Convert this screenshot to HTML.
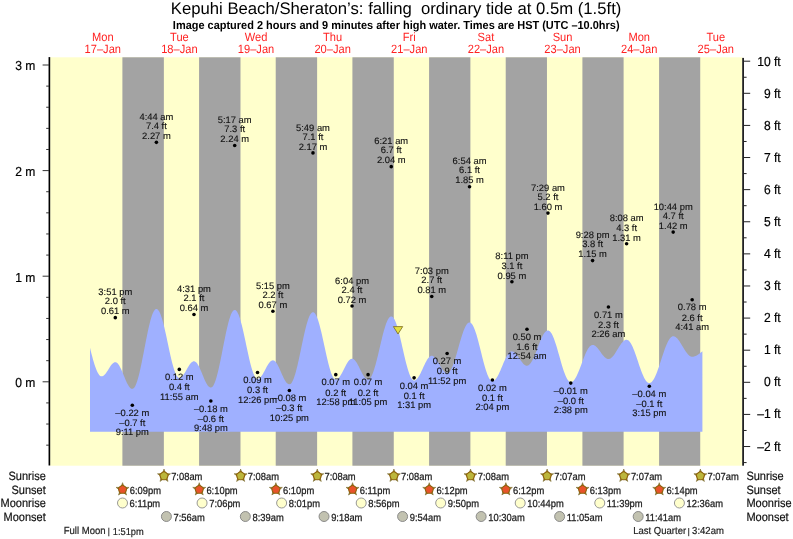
<!DOCTYPE html>
<html><head><meta charset="utf-8"><title>Tide chart</title>
<style>html,body{margin:0;padding:0;background:#fff}svg{display:block;will-change:transform}</style></head>
<body>
<svg width="793" height="539" viewBox="0 0 793 539" font-family="Liberation Sans, sans-serif" text-rendering="geometricPrecision">
<rect width="793" height="539" fill="#fff"/>
<rect x="50.15" y="57.3" width="692.15" height="408.4" fill="#ffffcc"/>
<rect x="122.40" y="57.3" width="41.46" height="408.4" fill="#a3a3a3"/>
<rect x="199.09" y="57.3" width="41.40" height="408.4" fill="#a3a3a3"/>
<rect x="275.72" y="57.3" width="41.40" height="408.4" fill="#a3a3a3"/>
<rect x="352.41" y="57.3" width="41.35" height="408.4" fill="#a3a3a3"/>
<rect x="429.09" y="57.3" width="41.30" height="408.4" fill="#a3a3a3"/>
<rect x="505.72" y="57.3" width="41.24" height="408.4" fill="#a3a3a3"/>
<rect x="582.41" y="57.3" width="41.19" height="408.4" fill="#a3a3a3"/>
<rect x="659.09" y="57.3" width="41.14" height="408.4" fill="#a3a3a3"/>
<path d="M90.00,431.7L90.00,347.81L90.77,350.91L91.53,353.92L92.30,356.84L93.06,359.64L93.83,362.28L94.59,364.76L95.36,367.04L96.12,369.11L96.89,370.94L97.66,372.53L98.42,373.85L99.19,374.91L99.95,375.68L100.72,376.16L101.48,376.34L102.25,376.27L103.01,375.97L103.78,375.47L104.54,374.79L105.31,373.93L106.08,372.93L106.84,371.82L107.61,370.63L108.37,369.40L109.14,368.17L109.90,366.97L110.67,365.85L111.43,364.82L112.20,363.94L112.97,363.22L113.73,362.68L114.50,362.35L115.26,362.23L116.03,362.35L116.79,362.73L117.56,363.37L118.32,364.25L119.09,365.36L119.85,366.67L120.62,368.15L121.39,369.79L122.15,371.53L122.92,373.36L123.68,375.23L124.45,377.11L125.21,378.96L125.98,380.74L126.74,382.41L127.51,383.95L128.28,385.32L129.04,386.50L129.81,387.45L130.57,388.17L131.34,388.64L132.10,388.85L132.87,388.75L133.63,388.27L134.40,387.39L135.16,386.13L135.93,384.50L136.70,382.51L137.46,380.19L138.23,377.56L138.99,374.64L139.76,371.47L140.52,368.07L141.29,364.48L142.05,360.74L142.82,356.87L143.59,352.93L144.35,348.95L145.12,344.97L145.88,341.03L146.65,337.16L147.41,333.42L148.18,329.83L148.94,326.42L149.71,323.25L150.47,320.32L151.24,317.69L152.01,315.36L152.77,313.37L153.54,311.73L154.30,310.46L155.07,309.58L155.83,309.09L156.60,308.99L157.36,309.28L158.13,309.94L158.90,310.98L159.66,312.37L160.43,314.10L161.19,316.16L161.96,318.51L162.72,321.15L163.49,324.02L164.25,327.11L165.02,330.38L165.78,333.80L166.55,337.32L167.32,340.91L168.08,344.52L168.85,348.13L169.61,351.68L170.38,355.15L171.14,358.48L171.91,361.65L172.67,364.62L173.44,367.36L174.20,369.83L174.97,372.01L175.74,373.88L176.50,375.42L177.27,376.60L178.03,377.42L178.80,377.86L179.56,377.94L180.33,377.75L181.09,377.35L181.86,376.74L182.63,375.94L183.39,374.97L184.16,373.86L184.92,372.63L185.69,371.32L186.45,369.96L187.22,368.60L187.98,367.26L188.75,365.99L189.51,364.81L190.28,363.76L191.05,362.87L191.81,362.16L192.58,361.65L193.34,361.35L194.11,361.27L194.87,361.45L195.64,361.89L196.40,362.58L197.17,363.52L197.94,364.67L198.70,366.03L199.47,367.55L200.23,369.22L201.00,370.99L201.76,372.83L202.53,374.70L203.29,376.57L204.06,378.39L204.82,380.13L205.59,381.76L206.36,383.24L207.12,384.54L207.89,385.63L208.65,386.49L209.42,387.11L210.18,387.48L210.95,387.57L211.71,387.32L212.48,386.68L213.25,385.65L214.01,384.25L214.78,382.49L215.54,380.38L216.31,377.96L217.07,375.24L217.84,372.25L218.60,369.02L219.37,365.59L220.13,361.99L220.90,358.25L221.67,354.42L222.43,350.53L223.20,346.62L223.96,342.73L224.73,338.90L225.49,335.18L226.26,331.59L227.02,328.18L227.79,324.97L228.56,322.01L229.32,319.31L230.09,316.92L230.85,314.85L231.62,313.12L232.38,311.75L233.15,310.76L233.91,310.16L234.68,309.94L235.44,310.12L236.21,310.67L236.98,311.60L237.74,312.90L238.51,314.54L239.27,316.52L240.04,318.81L240.80,321.38L241.57,324.20L242.33,327.26L243.10,330.50L243.87,333.90L244.63,337.41L245.40,341.00L246.16,344.64L246.93,348.26L247.69,351.85L248.46,355.35L249.22,358.73L249.99,361.96L250.75,364.99L251.52,367.78L252.29,370.33L253.05,372.58L253.82,374.52L254.58,376.12L255.35,377.38L256.11,378.27L256.88,378.78L257.64,378.91L258.41,378.76L259.18,378.39L259.94,377.80L260.71,377.01L261.47,376.04L262.24,374.91L263.00,373.66L263.77,372.30L264.53,370.88L265.30,369.43L266.06,367.98L266.83,366.57L267.60,365.24L268.36,364.01L269.13,362.92L269.89,362.00L270.66,361.26L271.42,360.72L272.19,360.40L272.95,360.31L273.72,360.46L274.49,360.86L275.25,361.51L276.02,362.38L276.78,363.47L277.55,364.75L278.31,366.19L279.08,367.75L279.84,369.42L280.61,371.15L281.38,372.90L282.14,374.64L282.91,376.34L283.67,377.94L284.44,379.43L285.20,380.77L285.97,381.93L286.73,382.88L287.50,383.61L288.26,384.10L289.03,384.34L289.80,384.31L290.56,383.91L291.33,383.15L292.09,382.02L292.86,380.55L293.62,378.74L294.39,376.61L295.15,374.19L295.92,371.50L296.69,368.57L297.45,365.43L298.22,362.11L298.98,358.65L299.75,355.08L300.51,351.44L301.28,347.77L302.04,344.10L302.81,340.48L303.57,336.93L304.34,333.51L305.11,330.24L305.87,327.15L306.64,324.28L307.40,321.67L308.17,319.33L308.93,317.28L309.70,315.56L310.46,314.18L311.23,313.16L312.00,312.49L312.76,312.20L313.53,312.28L314.29,312.74L315.06,313.56L315.82,314.74L316.59,316.27L317.35,318.13L318.12,320.29L318.88,322.74L319.65,325.45L320.42,328.38L321.18,331.51L321.95,334.79L322.71,338.20L323.48,341.70L324.24,345.24L325.01,348.79L325.77,352.30L326.54,355.75L327.31,359.08L328.07,362.27L328.84,365.27L329.60,368.06L330.37,370.61L331.13,372.88L331.90,374.84L332.66,376.49L333.43,377.80L334.19,378.75L334.96,379.34L335.73,379.55L336.49,379.46L337.26,379.14L338.02,378.60L338.79,377.85L339.55,376.91L340.32,375.81L341.08,374.55L341.85,373.18L342.62,371.72L343.38,370.21L344.15,368.67L344.91,367.14L345.68,365.66L346.44,364.25L347.21,362.94L347.97,361.77L348.74,360.76L349.50,359.94L350.27,359.31L351.04,358.90L351.80,358.71L352.57,358.76L353.33,359.03L354.10,359.53L354.86,360.25L355.63,361.17L356.39,362.27L357.16,363.52L357.93,364.90L358.69,366.37L359.46,367.91L360.22,369.47L360.99,371.03L361.75,372.54L362.52,373.98L363.28,375.30L364.05,376.49L364.81,377.51L365.58,378.35L366.35,378.97L367.11,379.38L367.88,379.55L368.64,379.45L369.41,379.03L370.17,378.26L370.94,377.17L371.70,375.77L372.47,374.07L373.24,372.08L374.00,369.84L374.77,367.36L375.53,364.68L376.30,361.81L377.06,358.80L377.83,355.66L378.59,352.45L379.36,349.19L380.12,345.91L380.89,342.65L381.66,339.46L382.42,336.35L383.19,333.37L383.95,330.54L384.72,327.91L385.48,325.49L386.25,323.31L387.01,321.39L387.78,319.76L388.55,318.44L389.31,317.43L390.08,316.75L390.84,316.40L391.61,316.40L392.37,316.75L393.14,317.45L393.90,318.49L394.67,319.86L395.43,321.55L396.20,323.53L396.97,325.80L397.73,328.31L398.50,331.04L399.26,333.97L400.03,337.05L400.79,340.27L401.56,343.57L402.32,346.92L403.09,350.30L403.86,353.65L404.62,356.94L405.39,360.14L406.15,363.22L406.92,366.12L407.68,368.84L408.45,371.32L409.21,373.56L409.98,375.51L410.74,377.17L411.51,378.51L412.28,379.52L413.04,380.18L413.81,380.49L414.57,380.47L415.34,380.22L416.10,379.74L416.87,379.05L417.63,378.15L418.40,377.07L419.17,375.83L419.93,374.44L420.70,372.94L421.46,371.34L422.23,369.69L422.99,368.02L423.76,366.34L424.52,364.70L425.29,363.12L426.05,361.63L426.82,360.27L427.59,359.05L428.35,358.01L429.12,357.15L429.88,356.49L430.65,356.05L431.41,355.84L432.18,355.85L432.94,356.07L433.71,356.50L434.48,357.13L435.24,357.93L436.01,358.89L436.77,359.99L437.54,361.20L438.30,362.49L439.07,363.83L439.83,365.19L440.60,366.52L441.36,367.81L442.13,369.02L442.90,370.11L443.66,371.07L444.43,371.86L445.19,372.48L445.96,372.90L446.72,373.11L447.49,373.10L448.25,372.82L449.02,372.24L449.79,371.39L450.55,370.26L451.32,368.88L452.08,367.25L452.85,365.40L453.61,363.35L454.38,361.12L455.14,358.74L455.91,356.23L456.67,353.63L457.44,350.96L458.21,348.25L458.97,345.53L459.74,342.85L460.50,340.22L461.27,337.67L462.03,335.24L462.80,332.96L463.56,330.85L464.33,328.93L465.10,327.23L465.86,325.76L466.63,324.55L467.39,323.60L468.16,322.93L468.92,322.55L469.69,322.46L470.45,322.68L471.22,323.22L471.98,324.08L472.75,325.24L473.52,326.70L474.28,328.44L475.05,330.43L475.81,332.66L476.58,335.10L477.34,337.73L478.11,340.51L478.87,343.42L479.64,346.42L480.41,349.48L481.17,352.57L481.94,355.64L482.70,358.68L483.47,361.64L484.23,364.49L485.00,367.20L485.76,369.73L486.53,372.08L487.29,374.19L488.06,376.06L488.83,377.66L489.59,378.98L490.36,379.99L491.12,380.70L491.89,381.08L492.65,381.15L493.42,380.96L494.18,380.56L494.95,379.93L495.72,379.10L496.48,378.07L497.25,376.86L498.01,375.50L498.78,373.99L499.54,372.36L500.31,370.64L501.07,368.86L501.84,367.03L502.60,365.20L503.37,363.37L504.14,361.60L504.90,359.89L505.67,358.28L506.43,356.79L507.20,355.44L507.96,354.26L508.73,353.26L509.49,352.45L510.26,351.86L511.03,351.48L511.79,351.33L512.56,351.39L513.32,351.63L514.09,352.05L514.85,352.63L515.62,353.37L516.38,354.23L517.15,355.21L517.91,356.27L518.68,357.39L519.45,358.54L520.21,359.69L520.98,360.81L521.74,361.87L522.51,362.85L523.27,363.71L524.04,364.45L524.80,365.03L525.57,365.45L526.33,365.70L527.10,365.76L527.87,365.60L528.63,365.22L529.40,364.61L530.16,363.79L530.93,362.76L531.69,361.54L532.46,360.14L533.22,358.59L533.99,356.90L534.76,355.09L535.52,353.19L536.29,351.23L537.05,349.22L537.82,347.20L538.58,345.20L539.35,343.23L540.11,341.32L540.88,339.51L541.64,337.80L542.41,336.23L543.18,334.82L543.94,333.58L544.71,332.53L545.47,331.69L546.24,331.06L547.00,330.66L547.77,330.48L548.53,330.55L549.30,330.90L550.07,331.54L550.83,332.45L551.60,333.62L552.36,335.05L553.13,336.71L553.89,338.59L554.66,340.67L555.42,342.92L556.19,345.32L556.96,347.84L557.72,350.46L558.49,353.14L559.25,355.85L560.02,358.57L560.78,361.27L561.55,363.91L562.31,366.46L563.08,368.90L563.84,371.21L564.61,373.34L565.38,375.29L566.14,377.03L566.91,378.53L567.67,379.79L568.44,380.79L569.20,381.51L569.97,381.96L570.73,382.12L571.50,382.02L572.26,381.70L573.03,381.15L573.80,380.39L574.56,379.43L575.33,378.27L576.09,376.93L576.86,375.43L577.62,373.78L578.39,372.01L579.15,370.14L579.92,368.18L580.69,366.17L581.45,364.13L582.22,362.08L582.98,360.04L583.75,358.05L584.51,356.13L585.28,354.29L586.04,352.57L586.81,350.98L587.58,349.54L588.34,348.27L589.11,347.19L589.87,346.31L590.64,345.63L591.40,345.17L592.17,344.94L592.93,344.93L593.70,345.08L594.46,345.40L595.23,345.86L596.00,346.47L596.76,347.20L597.53,348.04L598.29,348.97L599.06,349.97L599.82,351.02L600.59,352.09L601.35,353.15L602.12,354.19L602.88,355.18L603.65,356.09L604.42,356.91L605.18,357.62L605.95,358.19L606.71,358.62L607.48,358.90L608.24,359.02L609.01,358.97L609.77,358.76L610.54,358.39L611.31,357.85L612.07,357.17L612.84,356.36L613.60,355.42L614.37,354.38L615.13,353.25L615.90,352.05L616.66,350.81L617.43,349.54L618.20,348.27L618.96,347.02L619.73,345.81L620.49,344.66L621.26,343.60L622.02,342.64L622.79,341.79L623.55,341.08L624.32,340.52L625.08,340.11L625.85,339.86L626.62,339.78L627.38,339.90L628.15,340.27L628.91,340.87L629.68,341.70L630.44,342.76L631.21,344.02L631.97,345.48L632.74,347.12L633.51,348.92L634.27,350.86L635.04,352.91L635.80,355.07L636.57,357.29L637.33,359.56L638.10,361.85L638.86,364.14L639.63,366.40L640.39,368.60L641.16,370.72L641.93,372.73L642.69,374.62L643.46,376.36L644.22,377.94L644.99,379.33L645.75,380.52L646.52,381.49L647.28,382.24L648.05,382.76L648.81,383.03L649.58,383.07L650.35,382.86L651.11,382.43L651.88,381.76L652.64,380.86L653.41,379.76L654.17,378.44L654.94,376.94L655.70,375.26L656.47,373.43L657.24,371.45L658.00,369.36L658.77,367.16L659.53,364.89L660.30,362.57L661.06,360.22L661.83,357.86L662.59,355.52L663.36,353.23L664.13,351.00L664.89,348.85L665.66,346.82L666.42,344.91L667.19,343.16L667.95,341.57L668.72,340.17L669.48,338.96L670.25,337.97L671.01,337.19L671.78,336.64L672.55,336.33L673.31,336.25L674.08,336.36L674.84,336.63L675.61,337.06L676.37,337.65L677.14,338.37L677.90,339.23L678.67,340.20L679.44,341.27L680.20,342.43L680.97,343.66L681.73,344.92L682.50,346.22L683.26,347.52L684.03,348.80L684.79,350.05L685.56,351.24L686.32,352.35L687.09,353.37L687.86,354.28L688.62,355.07L689.39,355.71L690.15,356.22L690.92,356.56L691.68,356.75L692.45,356.77L693.21,356.70L693.98,356.55L694.75,356.32L695.51,356.03L696.28,355.66L697.04,355.23L697.81,354.76L698.57,354.24L699.34,353.68L700.10,353.11L700.87,352.52L701.63,351.93L702.40,351.34L702.40,431.7Z" fill="#9fb0ff"/>
<rect x="48.55" y="57.099999999999994" width="1.65" height="408.4" fill="#000"/>
<rect x="742.2" y="57.9" width="1.8" height="407.79999999999995" fill="#222"/>
<line x1="46.2" y1="445.16" x2="49" y2="445.16" stroke="#333" stroke-width="1"/>
<line x1="46.2" y1="424.04" x2="49" y2="424.04" stroke="#333" stroke-width="1"/>
<line x1="46.2" y1="402.92" x2="49" y2="402.92" stroke="#333" stroke-width="1"/>
<line x1="42.6" y1="381.80" x2="49" y2="381.80" stroke="#333" stroke-width="1"/>
<text transform="translate(35.40,387.10) scale(0.93,1)" font-size="13.0" text-anchor="end" fill="#000" stroke="#000" stroke-width="0.2">0 m</text>
<line x1="46.2" y1="360.68" x2="49" y2="360.68" stroke="#333" stroke-width="1"/>
<line x1="46.2" y1="339.56" x2="49" y2="339.56" stroke="#333" stroke-width="1"/>
<line x1="46.2" y1="318.44" x2="49" y2="318.44" stroke="#333" stroke-width="1"/>
<line x1="46.2" y1="297.32" x2="49" y2="297.32" stroke="#333" stroke-width="1"/>
<line x1="42.6" y1="276.20" x2="49" y2="276.20" stroke="#333" stroke-width="1"/>
<text transform="translate(35.40,281.50) scale(0.93,1)" font-size="13.0" text-anchor="end" fill="#000" stroke="#000" stroke-width="0.2">1 m</text>
<line x1="46.2" y1="255.08" x2="49" y2="255.08" stroke="#333" stroke-width="1"/>
<line x1="46.2" y1="233.96" x2="49" y2="233.96" stroke="#333" stroke-width="1"/>
<line x1="46.2" y1="212.84" x2="49" y2="212.84" stroke="#333" stroke-width="1"/>
<line x1="46.2" y1="191.72" x2="49" y2="191.72" stroke="#333" stroke-width="1"/>
<line x1="42.6" y1="170.60" x2="49" y2="170.60" stroke="#333" stroke-width="1"/>
<text transform="translate(35.40,175.90) scale(0.93,1)" font-size="13.0" text-anchor="end" fill="#000" stroke="#000" stroke-width="0.2">2 m</text>
<line x1="46.2" y1="149.48" x2="49" y2="149.48" stroke="#333" stroke-width="1"/>
<line x1="46.2" y1="128.36" x2="49" y2="128.36" stroke="#333" stroke-width="1"/>
<line x1="46.2" y1="107.24" x2="49" y2="107.24" stroke="#333" stroke-width="1"/>
<line x1="46.2" y1="86.12" x2="49" y2="86.12" stroke="#333" stroke-width="1"/>
<line x1="42.6" y1="65.00" x2="49" y2="65.00" stroke="#333" stroke-width="1"/>
<text transform="translate(35.40,70.30) scale(0.93,1)" font-size="13.0" text-anchor="end" fill="#000" stroke="#000" stroke-width="0.2">3 m</text>
<line x1="743" y1="462.58" x2="746.6" y2="462.58" stroke="#222" stroke-width="1"/>
<line x1="743" y1="446.52" x2="750.2" y2="446.52" stroke="#222" stroke-width="1"/>
<text transform="translate(780.70,450.56) scale(0.93,1)" font-size="13.0" text-anchor="end" fill="#000" stroke="#000" stroke-width="0.2">–2 ft</text>
<line x1="743" y1="430.47" x2="746.6" y2="430.47" stroke="#222" stroke-width="1"/>
<line x1="743" y1="414.41" x2="750.2" y2="414.41" stroke="#222" stroke-width="1"/>
<text transform="translate(780.70,418.48) scale(0.93,1)" font-size="13.0" text-anchor="end" fill="#000" stroke="#000" stroke-width="0.2">–1 ft</text>
<line x1="743" y1="398.36" x2="746.6" y2="398.36" stroke="#222" stroke-width="1"/>
<line x1="743" y1="382.30" x2="750.2" y2="382.30" stroke="#222" stroke-width="1"/>
<text transform="translate(780.70,386.40) scale(0.93,1)" font-size="13.0" text-anchor="end" fill="#000" stroke="#000" stroke-width="0.2">0 ft</text>
<line x1="743" y1="366.25" x2="746.6" y2="366.25" stroke="#222" stroke-width="1"/>
<line x1="743" y1="350.19" x2="750.2" y2="350.19" stroke="#222" stroke-width="1"/>
<text transform="translate(780.70,354.32) scale(0.93,1)" font-size="13.0" text-anchor="end" fill="#000" stroke="#000" stroke-width="0.2">1 ft</text>
<line x1="743" y1="334.13" x2="746.6" y2="334.13" stroke="#222" stroke-width="1"/>
<line x1="743" y1="318.08" x2="750.2" y2="318.08" stroke="#222" stroke-width="1"/>
<text transform="translate(780.70,322.24) scale(0.93,1)" font-size="13.0" text-anchor="end" fill="#000" stroke="#000" stroke-width="0.2">2 ft</text>
<line x1="743" y1="302.02" x2="746.6" y2="302.02" stroke="#222" stroke-width="1"/>
<line x1="743" y1="285.97" x2="750.2" y2="285.97" stroke="#222" stroke-width="1"/>
<text transform="translate(780.70,290.16) scale(0.93,1)" font-size="13.0" text-anchor="end" fill="#000" stroke="#000" stroke-width="0.2">3 ft</text>
<line x1="743" y1="269.92" x2="746.6" y2="269.92" stroke="#222" stroke-width="1"/>
<line x1="743" y1="253.86" x2="750.2" y2="253.86" stroke="#222" stroke-width="1"/>
<text transform="translate(780.70,258.08) scale(0.93,1)" font-size="13.0" text-anchor="end" fill="#000" stroke="#000" stroke-width="0.2">4 ft</text>
<line x1="743" y1="237.81" x2="746.6" y2="237.81" stroke="#222" stroke-width="1"/>
<line x1="743" y1="221.75" x2="750.2" y2="221.75" stroke="#222" stroke-width="1"/>
<text transform="translate(780.70,226.00) scale(0.93,1)" font-size="13.0" text-anchor="end" fill="#000" stroke="#000" stroke-width="0.2">5 ft</text>
<line x1="743" y1="205.70" x2="746.6" y2="205.70" stroke="#222" stroke-width="1"/>
<line x1="743" y1="189.64" x2="750.2" y2="189.64" stroke="#222" stroke-width="1"/>
<text transform="translate(780.70,193.92) scale(0.93,1)" font-size="13.0" text-anchor="end" fill="#000" stroke="#000" stroke-width="0.2">6 ft</text>
<line x1="743" y1="173.59" x2="746.6" y2="173.59" stroke="#222" stroke-width="1"/>
<line x1="743" y1="157.53" x2="750.2" y2="157.53" stroke="#222" stroke-width="1"/>
<text transform="translate(780.70,161.84) scale(0.93,1)" font-size="13.0" text-anchor="end" fill="#000" stroke="#000" stroke-width="0.2">7 ft</text>
<line x1="743" y1="141.48" x2="746.6" y2="141.48" stroke="#222" stroke-width="1"/>
<line x1="743" y1="125.42" x2="750.2" y2="125.42" stroke="#222" stroke-width="1"/>
<text transform="translate(780.70,129.76) scale(0.93,1)" font-size="13.0" text-anchor="end" fill="#000" stroke="#000" stroke-width="0.2">8 ft</text>
<line x1="743" y1="109.37" x2="746.6" y2="109.37" stroke="#222" stroke-width="1"/>
<line x1="743" y1="93.31" x2="750.2" y2="93.31" stroke="#222" stroke-width="1"/>
<text transform="translate(780.70,97.68) scale(0.93,1)" font-size="13.0" text-anchor="end" fill="#000" stroke="#000" stroke-width="0.2">9 ft</text>
<line x1="743" y1="77.25" x2="746.6" y2="77.25" stroke="#222" stroke-width="1"/>
<line x1="743" y1="61.20" x2="750.2" y2="61.20" stroke="#222" stroke-width="1"/>
<text transform="translate(780.70,65.60) scale(0.93,1)" font-size="13.0" text-anchor="end" fill="#000" stroke="#000" stroke-width="0.2">10 ft</text>
<text x="396.10" y="13.90" font-size="16.7" text-anchor="middle" fill="#000" xml:space="preserve">Kepuhi Beach/Sheraton’s: falling  ordinary tide at 0.5m (1.5ft)</text>
<text transform="translate(396.20,29.00) scale(0.945,1)" font-size="11.6" text-anchor="middle" font-weight="bold" fill="#000">Image captured 2 hours and 9 minutes after high water. Times are HST (UTC –10.0hrs)</text>
<text transform="translate(102.77,41.10) scale(0.925,1)" font-size="12.0" text-anchor="middle" fill="#ff2222">Mon</text>
<text transform="translate(102.77,53.20) scale(0.925,1)" font-size="12.0" text-anchor="middle" fill="#ff2222">17–Jan</text>
<text transform="translate(179.40,41.10) scale(0.925,1)" font-size="12.0" text-anchor="middle" fill="#ff2222">Tue</text>
<text transform="translate(179.40,53.20) scale(0.925,1)" font-size="12.0" text-anchor="middle" fill="#ff2222">18–Jan</text>
<text transform="translate(256.03,41.10) scale(0.925,1)" font-size="12.0" text-anchor="middle" fill="#ff2222">Wed</text>
<text transform="translate(256.03,53.20) scale(0.925,1)" font-size="12.0" text-anchor="middle" fill="#ff2222">19–Jan</text>
<text transform="translate(332.66,41.10) scale(0.925,1)" font-size="12.0" text-anchor="middle" fill="#ff2222">Thu</text>
<text transform="translate(332.66,53.20) scale(0.925,1)" font-size="12.0" text-anchor="middle" fill="#ff2222">20–Jan</text>
<text transform="translate(409.29,41.10) scale(0.925,1)" font-size="12.0" text-anchor="middle" fill="#ff2222">Fri</text>
<text transform="translate(409.29,53.20) scale(0.925,1)" font-size="12.0" text-anchor="middle" fill="#ff2222">21–Jan</text>
<text transform="translate(485.93,41.10) scale(0.925,1)" font-size="12.0" text-anchor="middle" fill="#ff2222">Sat</text>
<text transform="translate(485.93,53.20) scale(0.925,1)" font-size="12.0" text-anchor="middle" fill="#ff2222">22–Jan</text>
<text transform="translate(562.56,41.10) scale(0.925,1)" font-size="12.0" text-anchor="middle" fill="#ff2222">Sun</text>
<text transform="translate(562.56,53.20) scale(0.925,1)" font-size="12.0" text-anchor="middle" fill="#ff2222">23–Jan</text>
<text transform="translate(639.19,41.10) scale(0.925,1)" font-size="12.0" text-anchor="middle" fill="#ff2222">Mon</text>
<text transform="translate(639.19,53.20) scale(0.925,1)" font-size="12.0" text-anchor="middle" fill="#ff2222">24–Jan</text>
<text transform="translate(715.82,41.10) scale(0.925,1)" font-size="12.0" text-anchor="middle" fill="#ff2222">Tue</text>
<text transform="translate(715.82,53.20) scale(0.925,1)" font-size="12.0" text-anchor="middle" fill="#ff2222">25–Jan</text>
<circle cx="115.30" cy="317.63" r="1.8" fill="#000"/>
<text x="115.30" y="295.33" font-size="9.4" text-anchor="middle" fill="#111" stroke="#111" stroke-width="0.12">3:51 pm</text>
<text x="115.30" y="304.43" font-size="9.4" text-anchor="middle" fill="#111" stroke="#111" stroke-width="0.12">2.0 ft</text>
<text x="115.30" y="314.43" font-size="9.4" text-anchor="middle" fill="#111" stroke="#111" stroke-width="0.12">0.61 m</text>
<circle cx="132.31" cy="405.28" r="1.8" fill="#000"/>
<text x="132.31" y="416.08" font-size="9.4" text-anchor="middle" fill="#111" stroke="#111" stroke-width="0.12">–0.22 m</text>
<text x="132.31" y="426.18" font-size="9.4" text-anchor="middle" fill="#111" stroke="#111" stroke-width="0.12">–0.7 ft</text>
<text x="132.31" y="435.48" font-size="9.4" text-anchor="middle" fill="#111" stroke="#111" stroke-width="0.12">9:11 pm</text>
<circle cx="156.40" cy="142.34" r="1.8" fill="#000"/>
<text x="156.40" y="120.04" font-size="9.4" text-anchor="middle" fill="#111" stroke="#111" stroke-width="0.12">4:44 am</text>
<text x="156.40" y="129.14" font-size="9.4" text-anchor="middle" fill="#111" stroke="#111" stroke-width="0.12">7.4 ft</text>
<text x="156.40" y="139.14" font-size="9.4" text-anchor="middle" fill="#111" stroke="#111" stroke-width="0.12">2.27 m</text>
<circle cx="179.31" cy="369.38" r="1.8" fill="#000"/>
<text x="179.31" y="380.18" font-size="9.4" text-anchor="middle" fill="#111" stroke="#111" stroke-width="0.12">0.12 m</text>
<text x="179.31" y="390.28" font-size="9.4" text-anchor="middle" fill="#111" stroke="#111" stroke-width="0.12">0.4 ft</text>
<text x="179.31" y="399.58" font-size="9.4" text-anchor="middle" fill="#111" stroke="#111" stroke-width="0.12">11:55 am</text>
<circle cx="193.99" cy="314.47" r="1.8" fill="#000"/>
<text x="193.99" y="292.17" font-size="9.4" text-anchor="middle" fill="#111" stroke="#111" stroke-width="0.12">4:31 pm</text>
<text x="193.99" y="301.27" font-size="9.4" text-anchor="middle" fill="#111" stroke="#111" stroke-width="0.12">2.1 ft</text>
<text x="193.99" y="311.27" font-size="9.4" text-anchor="middle" fill="#111" stroke="#111" stroke-width="0.12">0.64 m</text>
<circle cx="210.84" cy="401.06" r="1.8" fill="#000"/>
<text x="210.84" y="411.86" font-size="9.4" text-anchor="middle" fill="#111" stroke="#111" stroke-width="0.12">–0.18 m</text>
<text x="210.84" y="421.96" font-size="9.4" text-anchor="middle" fill="#111" stroke="#111" stroke-width="0.12">–0.6 ft</text>
<text x="210.84" y="431.26" font-size="9.4" text-anchor="middle" fill="#111" stroke="#111" stroke-width="0.12">9:48 pm</text>
<circle cx="234.71" cy="145.51" r="1.8" fill="#000"/>
<text x="234.71" y="123.21" font-size="9.4" text-anchor="middle" fill="#111" stroke="#111" stroke-width="0.12">5:17 am</text>
<text x="234.71" y="132.31" font-size="9.4" text-anchor="middle" fill="#111" stroke="#111" stroke-width="0.12">7.3 ft</text>
<text x="234.71" y="142.31" font-size="9.4" text-anchor="middle" fill="#111" stroke="#111" stroke-width="0.12">2.24 m</text>
<circle cx="257.52" cy="372.55" r="1.8" fill="#000"/>
<text x="257.52" y="383.35" font-size="9.4" text-anchor="middle" fill="#111" stroke="#111" stroke-width="0.12">0.09 m</text>
<text x="257.52" y="393.45" font-size="9.4" text-anchor="middle" fill="#111" stroke="#111" stroke-width="0.12">0.3 ft</text>
<text x="257.52" y="402.75" font-size="9.4" text-anchor="middle" fill="#111" stroke="#111" stroke-width="0.12">12:26 pm</text>
<circle cx="272.89" cy="311.30" r="1.8" fill="#000"/>
<text x="272.89" y="289.00" font-size="9.4" text-anchor="middle" fill="#111" stroke="#111" stroke-width="0.12">5:15 pm</text>
<text x="272.89" y="298.10" font-size="9.4" text-anchor="middle" fill="#111" stroke="#111" stroke-width="0.12">2.2 ft</text>
<text x="272.89" y="308.10" font-size="9.4" text-anchor="middle" fill="#111" stroke="#111" stroke-width="0.12">0.67 m</text>
<circle cx="289.37" cy="390.50" r="1.8" fill="#000"/>
<text x="289.37" y="401.30" font-size="9.4" text-anchor="middle" fill="#111" stroke="#111" stroke-width="0.12">–0.08 m</text>
<text x="289.37" y="411.40" font-size="9.4" text-anchor="middle" fill="#111" stroke="#111" stroke-width="0.12">–0.3 ft</text>
<text x="289.37" y="420.70" font-size="9.4" text-anchor="middle" fill="#111" stroke="#111" stroke-width="0.12">10:25 pm</text>
<circle cx="312.98" cy="152.90" r="1.8" fill="#000"/>
<text x="312.98" y="130.60" font-size="9.4" text-anchor="middle" fill="#111" stroke="#111" stroke-width="0.12">5:49 am</text>
<text x="312.98" y="139.70" font-size="9.4" text-anchor="middle" fill="#111" stroke="#111" stroke-width="0.12">7.1 ft</text>
<text x="312.98" y="149.70" font-size="9.4" text-anchor="middle" fill="#111" stroke="#111" stroke-width="0.12">2.17 m</text>
<circle cx="335.78" cy="374.66" r="1.8" fill="#000"/>
<text x="335.78" y="385.46" font-size="9.4" text-anchor="middle" fill="#111" stroke="#111" stroke-width="0.12">0.07 m</text>
<text x="335.78" y="395.56" font-size="9.4" text-anchor="middle" fill="#111" stroke="#111" stroke-width="0.12">0.2 ft</text>
<text x="335.78" y="404.86" font-size="9.4" text-anchor="middle" fill="#111" stroke="#111" stroke-width="0.12">12:58 pm</text>
<circle cx="352.05" cy="306.02" r="1.8" fill="#000"/>
<text x="352.05" y="283.72" font-size="9.4" text-anchor="middle" fill="#111" stroke="#111" stroke-width="0.12">6:04 pm</text>
<text x="352.05" y="292.82" font-size="9.4" text-anchor="middle" fill="#111" stroke="#111" stroke-width="0.12">2.4 ft</text>
<text x="352.05" y="302.82" font-size="9.4" text-anchor="middle" fill="#111" stroke="#111" stroke-width="0.12">0.72 m</text>
<circle cx="368.06" cy="374.66" r="1.8" fill="#000"/>
<text x="368.06" y="385.46" font-size="9.4" text-anchor="middle" fill="#111" stroke="#111" stroke-width="0.12">0.07 m</text>
<text x="368.06" y="395.56" font-size="9.4" text-anchor="middle" fill="#111" stroke="#111" stroke-width="0.12">0.2 ft</text>
<text x="368.06" y="404.86" font-size="9.4" text-anchor="middle" fill="#111" stroke="#111" stroke-width="0.12">11:05 pm</text>
<circle cx="391.24" cy="166.63" r="1.8" fill="#000"/>
<text x="391.24" y="144.33" font-size="9.4" text-anchor="middle" fill="#111" stroke="#111" stroke-width="0.12">6:21 am</text>
<text x="391.24" y="153.43" font-size="9.4" text-anchor="middle" fill="#111" stroke="#111" stroke-width="0.12">6.7 ft</text>
<text x="391.24" y="163.43" font-size="9.4" text-anchor="middle" fill="#111" stroke="#111" stroke-width="0.12">2.04 m</text>
<circle cx="414.10" cy="377.83" r="1.8" fill="#000"/>
<text x="414.10" y="388.63" font-size="9.4" text-anchor="middle" fill="#111" stroke="#111" stroke-width="0.12">0.04 m</text>
<text x="414.10" y="398.73" font-size="9.4" text-anchor="middle" fill="#111" stroke="#111" stroke-width="0.12">0.1 ft</text>
<text x="414.10" y="408.03" font-size="9.4" text-anchor="middle" fill="#111" stroke="#111" stroke-width="0.12">1:31 pm</text>
<circle cx="431.75" cy="296.51" r="1.8" fill="#000"/>
<text x="431.75" y="274.21" font-size="9.4" text-anchor="middle" fill="#111" stroke="#111" stroke-width="0.12">7:03 pm</text>
<text x="431.75" y="283.31" font-size="9.4" text-anchor="middle" fill="#111" stroke="#111" stroke-width="0.12">2.7 ft</text>
<text x="431.75" y="293.31" font-size="9.4" text-anchor="middle" fill="#111" stroke="#111" stroke-width="0.12">0.81 m</text>
<circle cx="447.11" cy="353.54" r="1.8" fill="#000"/>
<text x="447.11" y="364.34" font-size="9.4" text-anchor="middle" fill="#111" stroke="#111" stroke-width="0.12">0.27 m</text>
<text x="447.11" y="374.44" font-size="9.4" text-anchor="middle" fill="#111" stroke="#111" stroke-width="0.12">0.9 ft</text>
<text x="447.11" y="383.74" font-size="9.4" text-anchor="middle" fill="#111" stroke="#111" stroke-width="0.12">11:52 pm</text>
<circle cx="469.55" cy="186.69" r="1.8" fill="#000"/>
<text x="469.55" y="164.39" font-size="9.4" text-anchor="middle" fill="#111" stroke="#111" stroke-width="0.12">6:54 am</text>
<text x="469.55" y="173.49" font-size="9.4" text-anchor="middle" fill="#111" stroke="#111" stroke-width="0.12">6.1 ft</text>
<text x="469.55" y="183.49" font-size="9.4" text-anchor="middle" fill="#111" stroke="#111" stroke-width="0.12">1.85 m</text>
<circle cx="492.41" cy="379.94" r="1.8" fill="#000"/>
<text x="492.41" y="390.74" font-size="9.4" text-anchor="middle" fill="#111" stroke="#111" stroke-width="0.12">0.02 m</text>
<text x="492.41" y="400.84" font-size="9.4" text-anchor="middle" fill="#111" stroke="#111" stroke-width="0.12">0.1 ft</text>
<text x="492.41" y="410.14" font-size="9.4" text-anchor="middle" fill="#111" stroke="#111" stroke-width="0.12">2:04 pm</text>
<circle cx="511.92" cy="281.73" r="1.8" fill="#000"/>
<text x="511.92" y="259.43" font-size="9.4" text-anchor="middle" fill="#111" stroke="#111" stroke-width="0.12">8:11 pm</text>
<text x="511.92" y="268.53" font-size="9.4" text-anchor="middle" fill="#111" stroke="#111" stroke-width="0.12">3.1 ft</text>
<text x="511.92" y="278.53" font-size="9.4" text-anchor="middle" fill="#111" stroke="#111" stroke-width="0.12">0.95 m</text>
<circle cx="526.97" cy="329.25" r="1.8" fill="#000"/>
<text x="526.97" y="340.05" font-size="9.4" text-anchor="middle" fill="#111" stroke="#111" stroke-width="0.12">0.50 m</text>
<text x="526.97" y="350.15" font-size="9.4" text-anchor="middle" fill="#111" stroke="#111" stroke-width="0.12">1.6 ft</text>
<text x="526.97" y="359.45" font-size="9.4" text-anchor="middle" fill="#111" stroke="#111" stroke-width="0.12">12:54 am</text>
<circle cx="547.97" cy="213.09" r="1.8" fill="#000"/>
<text x="547.97" y="190.79" font-size="9.4" text-anchor="middle" fill="#111" stroke="#111" stroke-width="0.12">7:29 am</text>
<text x="547.97" y="199.89" font-size="9.4" text-anchor="middle" fill="#111" stroke="#111" stroke-width="0.12">5.2 ft</text>
<text x="547.97" y="209.89" font-size="9.4" text-anchor="middle" fill="#111" stroke="#111" stroke-width="0.12">1.60 m</text>
<circle cx="570.78" cy="383.11" r="1.8" fill="#000"/>
<text x="570.78" y="393.91" font-size="9.4" text-anchor="middle" fill="#111" stroke="#111" stroke-width="0.12">–0.01 m</text>
<text x="570.78" y="404.01" font-size="9.4" text-anchor="middle" fill="#111" stroke="#111" stroke-width="0.12">–0.0 ft</text>
<text x="570.78" y="413.31" font-size="9.4" text-anchor="middle" fill="#111" stroke="#111" stroke-width="0.12">2:38 pm</text>
<circle cx="592.58" cy="260.61" r="1.8" fill="#000"/>
<text x="592.58" y="238.31" font-size="9.4" text-anchor="middle" fill="#111" stroke="#111" stroke-width="0.12">9:28 pm</text>
<text x="592.58" y="247.41" font-size="9.4" text-anchor="middle" fill="#111" stroke="#111" stroke-width="0.12">3.8 ft</text>
<text x="592.58" y="257.41" font-size="9.4" text-anchor="middle" fill="#111" stroke="#111" stroke-width="0.12">1.15 m</text>
<circle cx="608.42" cy="307.07" r="1.8" fill="#000"/>
<text x="608.42" y="317.87" font-size="9.4" text-anchor="middle" fill="#111" stroke="#111" stroke-width="0.12">0.71 m</text>
<text x="608.42" y="327.97" font-size="9.4" text-anchor="middle" fill="#111" stroke="#111" stroke-width="0.12">2.3 ft</text>
<text x="608.42" y="337.27" font-size="9.4" text-anchor="middle" fill="#111" stroke="#111" stroke-width="0.12">2:26 am</text>
<circle cx="626.61" cy="243.71" r="1.8" fill="#000"/>
<text x="626.61" y="221.41" font-size="9.4" text-anchor="middle" fill="#111" stroke="#111" stroke-width="0.12">8:08 am</text>
<text x="626.61" y="230.51" font-size="9.4" text-anchor="middle" fill="#111" stroke="#111" stroke-width="0.12">4.3 ft</text>
<text x="626.61" y="240.51" font-size="9.4" text-anchor="middle" fill="#111" stroke="#111" stroke-width="0.12">1.31 m</text>
<circle cx="649.31" cy="386.27" r="1.8" fill="#000"/>
<text x="649.31" y="397.07" font-size="9.4" text-anchor="middle" fill="#111" stroke="#111" stroke-width="0.12">–0.04 m</text>
<text x="649.31" y="407.17" font-size="9.4" text-anchor="middle" fill="#111" stroke="#111" stroke-width="0.12">–0.1 ft</text>
<text x="649.31" y="416.47" font-size="9.4" text-anchor="middle" fill="#111" stroke="#111" stroke-width="0.12">3:15 pm</text>
<circle cx="673.18" cy="232.10" r="1.8" fill="#000"/>
<text x="673.18" y="209.80" font-size="9.4" text-anchor="middle" fill="#111" stroke="#111" stroke-width="0.12">10:44 pm</text>
<text x="673.18" y="218.90" font-size="9.4" text-anchor="middle" fill="#111" stroke="#111" stroke-width="0.12">4.7 ft</text>
<text x="673.18" y="228.90" font-size="9.4" text-anchor="middle" fill="#111" stroke="#111" stroke-width="0.12">1.42 m</text>
<circle cx="692.16" cy="299.68" r="1.8" fill="#000"/>
<text x="692.16" y="310.48" font-size="9.4" text-anchor="middle" fill="#111" stroke="#111" stroke-width="0.12">0.78 m</text>
<text x="692.16" y="320.58" font-size="9.4" text-anchor="middle" fill="#111" stroke="#111" stroke-width="0.12">2.6 ft</text>
<text x="692.16" y="329.88" font-size="9.4" text-anchor="middle" fill="#111" stroke="#111" stroke-width="0.12">4:41 am</text>
<path d="M393.4,326.6 L402.7,326.6 L398,334 Z" fill="#e4e040" stroke="#7a6a20" stroke-width="0.8"/>
<text transform="translate(45.80,480.10) scale(0.91,1)" font-size="12.1" text-anchor="end" fill="#111" stroke="#111" stroke-width="0.2">Sunrise</text>
<text transform="translate(746.40,480.10) scale(0.91,1)" font-size="12.1" fill="#111" stroke="#111" stroke-width="0.2">Sunrise</text>
<text transform="translate(45.80,493.90) scale(0.91,1)" font-size="12.1" text-anchor="end" fill="#111" stroke="#111" stroke-width="0.2">Sunset</text>
<text transform="translate(746.40,493.90) scale(0.91,1)" font-size="12.1" fill="#111" stroke="#111" stroke-width="0.2">Sunset</text>
<text transform="translate(45.80,507.20) scale(0.91,1)" font-size="12.1" text-anchor="end" fill="#111" stroke="#111" stroke-width="0.2">Moonrise</text>
<text transform="translate(746.40,507.20) scale(0.91,1)" font-size="12.1" fill="#111" stroke="#111" stroke-width="0.2">Moonrise</text>
<text transform="translate(45.80,520.80) scale(0.91,1)" font-size="12.1" text-anchor="end" fill="#111" stroke="#111" stroke-width="0.2">Moonset</text>
<text transform="translate(746.40,520.80) scale(0.91,1)" font-size="12.1" fill="#111" stroke="#111" stroke-width="0.2">Moonset</text>
<polygon points="164.01,469.10 165.54,473.80 170.48,473.80 166.48,476.70 168.01,481.40 164.01,478.50 160.01,481.40 161.54,476.70 157.54,473.80 162.48,473.80" fill="#857538" stroke="#857538" stroke-width="0.7" stroke-linejoin="miter"/><polygon points="164.01,471.50 166.24,472.83 168.19,474.54 167.62,477.07 166.59,479.46 164.01,479.70 161.42,479.46 160.39,477.07 159.82,474.54 161.78,472.83" fill="#bcb63c" stroke="#8f640d" stroke-width="1.15" stroke-linejoin="round"/>
<text transform="translate(171.16,479.95) scale(0.91,1)" font-size="10.3" fill="#1a1a1a" stroke="#1a1a1a" stroke-width="0.25">7:08am</text>
<polygon points="240.64,469.10 242.17,473.80 247.11,473.80 243.11,476.70 244.64,481.40 240.64,478.50 236.64,481.40 238.17,476.70 234.17,473.80 239.11,473.80" fill="#857538" stroke="#857538" stroke-width="0.7" stroke-linejoin="miter"/><polygon points="240.64,471.50 242.87,472.83 244.83,474.54 244.25,477.07 243.23,479.46 240.64,479.70 238.05,479.46 237.03,477.07 236.46,474.54 238.41,472.83" fill="#bcb63c" stroke="#8f640d" stroke-width="1.15" stroke-linejoin="round"/>
<text transform="translate(247.79,479.95) scale(0.91,1)" font-size="10.3" fill="#1a1a1a" stroke="#1a1a1a" stroke-width="0.25">7:08am</text>
<polygon points="317.27,469.10 318.80,473.80 323.74,473.80 319.75,476.70 321.27,481.40 317.27,478.50 313.28,481.40 314.80,476.70 310.81,473.80 315.74,473.80" fill="#857538" stroke="#857538" stroke-width="0.7" stroke-linejoin="miter"/><polygon points="317.27,471.50 319.51,472.83 321.46,474.54 320.89,477.07 319.86,479.46 317.27,479.70 314.69,479.46 313.66,477.07 313.09,474.54 315.04,472.83" fill="#bcb63c" stroke="#8f640d" stroke-width="1.15" stroke-linejoin="round"/>
<text transform="translate(324.42,479.95) scale(0.91,1)" font-size="10.3" fill="#1a1a1a" stroke="#1a1a1a" stroke-width="0.25">7:08am</text>
<polygon points="393.90,469.10 395.43,473.80 400.37,473.80 396.38,476.70 397.90,481.40 393.90,478.50 389.91,481.40 391.43,476.70 387.44,473.80 392.38,473.80" fill="#857538" stroke="#857538" stroke-width="0.7" stroke-linejoin="miter"/><polygon points="393.90,471.50 396.14,472.83 398.09,474.54 397.52,477.07 396.49,479.46 393.90,479.70 391.32,479.46 390.29,477.07 389.72,474.54 391.67,472.83" fill="#bcb63c" stroke="#8f640d" stroke-width="1.15" stroke-linejoin="round"/>
<text transform="translate(401.05,479.95) scale(0.91,1)" font-size="10.3" fill="#1a1a1a" stroke="#1a1a1a" stroke-width="0.25">7:08am</text>
<polygon points="470.54,469.10 472.06,473.80 477.00,473.80 473.01,476.70 474.53,481.40 470.54,478.50 466.54,481.40 468.06,476.70 464.07,473.80 469.01,473.80" fill="#857538" stroke="#857538" stroke-width="0.7" stroke-linejoin="miter"/><polygon points="470.54,471.50 472.77,472.83 474.72,474.54 474.15,477.07 473.12,479.46 470.54,479.70 467.95,479.46 466.92,477.07 466.35,474.54 468.30,472.83" fill="#bcb63c" stroke="#8f640d" stroke-width="1.15" stroke-linejoin="round"/>
<text transform="translate(477.69,479.95) scale(0.91,1)" font-size="10.3" fill="#1a1a1a" stroke="#1a1a1a" stroke-width="0.25">7:08am</text>
<polygon points="547.12,469.10 548.64,473.80 553.58,473.80 549.59,476.70 551.11,481.40 547.12,478.50 543.12,481.40 544.64,476.70 540.65,473.80 545.59,473.80" fill="#857538" stroke="#857538" stroke-width="0.7" stroke-linejoin="miter"/><polygon points="547.12,471.50 549.35,472.83 551.30,474.54 550.73,477.07 549.70,479.46 547.12,479.70 544.53,479.46 543.50,477.07 542.93,474.54 544.88,472.83" fill="#bcb63c" stroke="#8f640d" stroke-width="1.15" stroke-linejoin="round"/>
<text transform="translate(554.27,479.95) scale(0.91,1)" font-size="10.3" fill="#1a1a1a" stroke="#1a1a1a" stroke-width="0.25">7:07am</text>
<polygon points="623.75,469.10 625.28,473.80 630.21,473.80 626.22,476.70 627.74,481.40 623.75,478.50 619.75,481.40 621.27,476.70 617.28,473.80 622.22,473.80" fill="#857538" stroke="#857538" stroke-width="0.7" stroke-linejoin="miter"/><polygon points="623.75,471.50 625.98,472.83 627.93,474.54 627.36,477.07 626.33,479.46 623.75,479.70 621.16,479.46 620.13,477.07 619.56,474.54 621.51,472.83" fill="#bcb63c" stroke="#8f640d" stroke-width="1.15" stroke-linejoin="round"/>
<text transform="translate(630.90,479.95) scale(0.91,1)" font-size="10.3" fill="#1a1a1a" stroke="#1a1a1a" stroke-width="0.25">7:07am</text>
<polygon points="700.38,469.10 701.91,473.80 706.85,473.80 702.85,476.70 704.38,481.40 700.38,478.50 696.38,481.40 697.91,476.70 693.91,473.80 698.85,473.80" fill="#857538" stroke="#857538" stroke-width="0.7" stroke-linejoin="miter"/><polygon points="700.38,471.50 702.61,472.83 704.56,474.54 703.99,477.07 702.97,479.46 700.38,479.70 697.79,479.46 696.77,477.07 696.19,474.54 698.15,472.83" fill="#bcb63c" stroke="#8f640d" stroke-width="1.15" stroke-linejoin="round"/>
<text transform="translate(707.53,479.95) scale(0.91,1)" font-size="10.3" fill="#1a1a1a" stroke="#1a1a1a" stroke-width="0.25">7:07am</text>
<polygon points="122.55,482.70 124.08,487.40 129.02,487.40 125.03,490.30 126.55,495.00 122.55,492.10 118.56,495.00 120.08,490.30 116.09,487.40 121.02,487.40" fill="#857538" stroke="#857538" stroke-width="0.7" stroke-linejoin="miter"/><polygon points="122.55,485.10 124.79,486.43 126.74,488.14 126.17,490.67 125.14,493.06 122.55,493.30 119.97,493.06 118.94,490.67 118.37,488.14 120.32,486.43" fill="#e8532b" stroke="#8f640d" stroke-width="1.15" stroke-linejoin="round"/>
<text transform="translate(129.70,493.70) scale(0.91,1)" font-size="10.3" fill="#1a1a1a" stroke="#1a1a1a" stroke-width="0.25">6:09pm</text>
<polygon points="199.24,482.70 200.77,487.40 205.71,487.40 201.71,490.30 203.24,495.00 199.24,492.10 195.24,495.00 196.77,490.30 192.77,487.40 197.71,487.40" fill="#857538" stroke="#857538" stroke-width="0.7" stroke-linejoin="miter"/><polygon points="199.24,485.10 201.47,486.43 203.42,488.14 202.85,490.67 201.82,493.06 199.24,493.30 196.65,493.06 195.62,490.67 195.05,488.14 197.00,486.43" fill="#e8532b" stroke="#8f640d" stroke-width="1.15" stroke-linejoin="round"/>
<text transform="translate(206.39,493.70) scale(0.91,1)" font-size="10.3" fill="#1a1a1a" stroke="#1a1a1a" stroke-width="0.25">6:10pm</text>
<polygon points="275.87,482.70 277.40,487.40 282.34,487.40 278.34,490.30 279.87,495.00 275.87,492.10 271.87,495.00 273.40,490.30 269.40,487.40 274.34,487.40" fill="#857538" stroke="#857538" stroke-width="0.7" stroke-linejoin="miter"/><polygon points="275.87,485.10 278.10,486.43 280.05,488.14 279.48,490.67 278.46,493.06 275.87,493.30 273.28,493.06 272.26,490.67 271.69,488.14 273.64,486.43" fill="#e8532b" stroke="#8f640d" stroke-width="1.15" stroke-linejoin="round"/>
<text transform="translate(283.02,493.70) scale(0.91,1)" font-size="10.3" fill="#1a1a1a" stroke="#1a1a1a" stroke-width="0.25">6:10pm</text>
<polygon points="352.56,482.70 354.08,487.40 359.02,487.40 355.03,490.30 356.55,495.00 352.56,492.10 348.56,495.00 350.08,490.30 346.09,487.40 351.03,487.40" fill="#857538" stroke="#857538" stroke-width="0.7" stroke-linejoin="miter"/><polygon points="352.56,485.10 354.79,486.43 356.74,488.14 356.17,490.67 355.14,493.06 352.56,493.30 349.97,493.06 348.94,490.67 348.37,488.14 350.32,486.43" fill="#e8532b" stroke="#8f640d" stroke-width="1.15" stroke-linejoin="round"/>
<text transform="translate(359.71,493.70) scale(0.91,1)" font-size="10.3" fill="#1a1a1a" stroke="#1a1a1a" stroke-width="0.25">6:11pm</text>
<polygon points="429.24,482.70 430.77,487.40 435.71,487.40 431.71,490.30 433.24,495.00 429.24,492.10 425.24,495.00 426.77,490.30 422.77,487.40 427.71,487.40" fill="#857538" stroke="#857538" stroke-width="0.7" stroke-linejoin="miter"/><polygon points="429.24,485.10 431.47,486.43 433.43,488.14 432.85,490.67 431.83,493.06 429.24,493.30 426.65,493.06 425.63,490.67 425.06,488.14 427.01,486.43" fill="#e8532b" stroke="#8f640d" stroke-width="1.15" stroke-linejoin="round"/>
<text transform="translate(436.39,493.70) scale(0.91,1)" font-size="10.3" fill="#1a1a1a" stroke="#1a1a1a" stroke-width="0.25">6:12pm</text>
<polygon points="505.87,482.70 507.40,487.40 512.34,487.40 508.35,490.30 509.87,495.00 505.87,492.10 501.88,495.00 503.40,490.30 499.41,487.40 504.34,487.40" fill="#857538" stroke="#857538" stroke-width="0.7" stroke-linejoin="miter"/><polygon points="505.87,485.10 508.11,486.43 510.06,488.14 509.49,490.67 508.46,493.06 505.87,493.30 503.29,493.06 502.26,490.67 501.69,488.14 503.64,486.43" fill="#e8532b" stroke="#8f640d" stroke-width="1.15" stroke-linejoin="round"/>
<text transform="translate(513.02,493.70) scale(0.91,1)" font-size="10.3" fill="#1a1a1a" stroke="#1a1a1a" stroke-width="0.25">6:12pm</text>
<polygon points="582.56,482.70 584.09,487.40 589.03,487.40 585.03,490.30 586.55,495.00 582.56,492.10 578.56,495.00 580.09,490.30 576.09,487.40 581.03,487.40" fill="#857538" stroke="#857538" stroke-width="0.7" stroke-linejoin="miter"/><polygon points="582.56,485.10 584.79,486.43 586.74,488.14 586.17,490.67 585.14,493.06 582.56,493.30 579.97,493.06 578.94,490.67 578.37,488.14 580.32,486.43" fill="#e8532b" stroke="#8f640d" stroke-width="1.15" stroke-linejoin="round"/>
<text transform="translate(589.71,493.70) scale(0.91,1)" font-size="10.3" fill="#1a1a1a" stroke="#1a1a1a" stroke-width="0.25">6:13pm</text>
<polygon points="659.24,482.70 660.77,487.40 665.71,487.40 661.72,490.30 663.24,495.00 659.24,492.10 655.25,495.00 656.77,490.30 652.78,487.40 657.71,487.40" fill="#857538" stroke="#857538" stroke-width="0.7" stroke-linejoin="miter"/><polygon points="659.24,485.10 661.48,486.43 663.43,488.14 662.86,490.67 661.83,493.06 659.24,493.30 656.66,493.06 655.63,490.67 655.06,488.14 657.01,486.43" fill="#e8532b" stroke="#8f640d" stroke-width="1.15" stroke-linejoin="round"/>
<text transform="translate(666.39,493.70) scale(0.91,1)" font-size="10.3" fill="#1a1a1a" stroke="#1a1a1a" stroke-width="0.25">6:14pm</text>
<circle cx="122.51" cy="503" r="5" fill="#ffffcc" stroke="#8c8c8c" stroke-width="0.9"/>
<text transform="translate(129.61,507.40) scale(0.91,1)" font-size="10.3" fill="#1a1a1a" stroke="#1a1a1a" stroke-width="0.25">6:11pm</text>
<circle cx="202.07" cy="503" r="5" fill="#ffffcc" stroke="#8c8c8c" stroke-width="0.9"/>
<text transform="translate(209.17,507.40) scale(0.91,1)" font-size="10.3" fill="#1a1a1a" stroke="#1a1a1a" stroke-width="0.25">7:06pm</text>
<circle cx="281.63" cy="503" r="5" fill="#ffffcc" stroke="#8c8c8c" stroke-width="0.9"/>
<text transform="translate(288.73,507.40) scale(0.91,1)" font-size="10.3" fill="#1a1a1a" stroke="#1a1a1a" stroke-width="0.25">8:01pm</text>
<circle cx="361.19" cy="503" r="5" fill="#ffffcc" stroke="#8c8c8c" stroke-width="0.9"/>
<text transform="translate(368.29,507.40) scale(0.91,1)" font-size="10.3" fill="#1a1a1a" stroke="#1a1a1a" stroke-width="0.25">8:56pm</text>
<circle cx="440.69" cy="503" r="5" fill="#ffffcc" stroke="#8c8c8c" stroke-width="0.9"/>
<text transform="translate(447.79,507.40) scale(0.91,1)" font-size="10.3" fill="#1a1a1a" stroke="#1a1a1a" stroke-width="0.25">9:50pm</text>
<circle cx="520.20" cy="503" r="5" fill="#ffffcc" stroke="#8c8c8c" stroke-width="0.9"/>
<text transform="translate(527.30,507.40) scale(0.91,1)" font-size="10.3" fill="#1a1a1a" stroke="#1a1a1a" stroke-width="0.25">10:44pm</text>
<circle cx="599.76" cy="503" r="5" fill="#ffffcc" stroke="#8c8c8c" stroke-width="0.9"/>
<text transform="translate(606.86,507.40) scale(0.91,1)" font-size="10.3" fill="#1a1a1a" stroke="#1a1a1a" stroke-width="0.25">11:39pm</text>
<circle cx="679.42" cy="503" r="5" fill="#ffffcc" stroke="#8c8c8c" stroke-width="0.9"/>
<text transform="translate(686.52,507.40) scale(0.91,1)" font-size="10.3" fill="#1a1a1a" stroke="#1a1a1a" stroke-width="0.25">12:36am</text>
<circle cx="166.41" cy="516.5" r="5" fill="#c2c2b0" stroke="#808080" stroke-width="0.9"/>
<text transform="translate(173.51,521.00) scale(0.91,1)" font-size="10.3" fill="#1a1a1a" stroke="#1a1a1a" stroke-width="0.25">7:56am</text>
<circle cx="245.33" cy="516.5" r="5" fill="#c2c2b0" stroke="#808080" stroke-width="0.9"/>
<text transform="translate(252.43,521.00) scale(0.91,1)" font-size="10.3" fill="#1a1a1a" stroke="#1a1a1a" stroke-width="0.25">8:39am</text>
<circle cx="324.04" cy="516.5" r="5" fill="#c2c2b0" stroke="#808080" stroke-width="0.9"/>
<text transform="translate(331.14,521.00) scale(0.91,1)" font-size="10.3" fill="#1a1a1a" stroke="#1a1a1a" stroke-width="0.25">9:18am</text>
<circle cx="402.59" cy="516.5" r="5" fill="#c2c2b0" stroke="#808080" stroke-width="0.9"/>
<text transform="translate(409.69,521.00) scale(0.91,1)" font-size="10.3" fill="#1a1a1a" stroke="#1a1a1a" stroke-width="0.25">9:54am</text>
<circle cx="481.14" cy="516.5" r="5" fill="#c2c2b0" stroke="#808080" stroke-width="0.9"/>
<text transform="translate(488.24,521.00) scale(0.91,1)" font-size="10.3" fill="#1a1a1a" stroke="#1a1a1a" stroke-width="0.25">10:30am</text>
<circle cx="559.63" cy="516.5" r="5" fill="#c2c2b0" stroke="#808080" stroke-width="0.9"/>
<text transform="translate(566.73,521.00) scale(0.91,1)" font-size="10.3" fill="#1a1a1a" stroke="#1a1a1a" stroke-width="0.25">11:05am</text>
<circle cx="638.18" cy="516.5" r="5" fill="#c2c2b0" stroke="#808080" stroke-width="0.9"/>
<text transform="translate(645.28,521.00) scale(0.91,1)" font-size="10.3" fill="#1a1a1a" stroke="#1a1a1a" stroke-width="0.25">11:41am</text>
<text transform="translate(63.70,533.70) scale(0.928,1)" font-size="10.3" fill="#222" stroke="#222" stroke-width="0.2">Full Moon</text>
<rect x="108.3" y="527.7" width="1.0" height="8.6" fill="#333"/>
<text transform="translate(112.80,535.00) scale(0.91,1)" font-size="10.2" fill="#222" stroke="#222" stroke-width="0.2">1:51pm</text>
<text transform="translate(633.20,533.90) scale(0.934,1)" font-size="10.2" fill="#222" stroke="#222" stroke-width="0.2">Last Quarter</text>
<rect x="688.2" y="528.0" width="1.0" height="8.2" fill="#333"/>
<text transform="translate(692.10,533.70) scale(0.935,1)" font-size="10.2" fill="#222" stroke="#222" stroke-width="0.2">3:42am</text>
</svg>
</body></html>
